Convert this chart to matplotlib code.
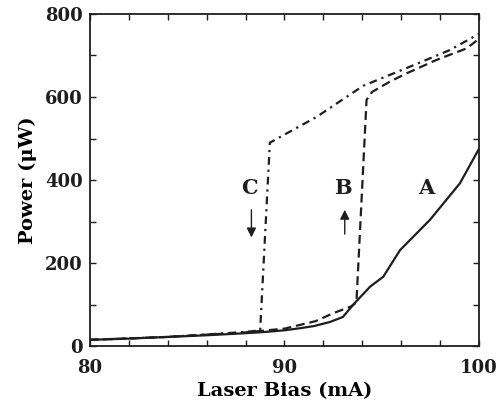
import matplotlib
matplotlib.use("Agg")
import matplotlib.pyplot as plt
from matplotlib.ticker import MultipleLocator

# courbe A (trait plein)
a_x = [80, 82, 84, 86, 88, 89, 90, 90.8, 91.5, 92.34, 93.0, 93.6, 94.4, 95.08, 95.94, 97.48, 99.02, 100]
a_y = [15, 18, 22, 26, 31, 34, 38, 43, 48, 58, 70, 103, 143, 167, 231, 304, 392, 475]

# courbe B (tirets)
b_x = [80, 84, 88, 90, 91.6, 92.5, 93.4, 93.7, 94.22, 94.5, 95.42, 96.28, 97.8, 99.36, 100]
b_y = [15, 22, 33, 42, 60, 79, 95, 105, 593, 612, 637, 657, 689, 717, 740]

# courbe C (tiret-point)
c_x = [80, 84, 88, 88.75, 89.25, 91.65, 94.05, 96.45, 98.5, 100]
c_y = [15, 22, 34, 38, 490, 552, 627, 673, 713, 752]

# etiquettes et fleches
etiquettes = ["C", "B", "A"]
etiq_x = [88.2, 93.0, 97.3]
etiq_y = [381, 381, 381]
fleche_x = [88.3, 93.1]
fleche_de = [335, 263]
fleche_vers = [255, 335]

encre = "#1e1e1e"
serif = ["DejaVu Serif"]

fig = plt.figure(figsize=(5.01, 4.11), dpi=100)
ax = fig.add_axes([0.1796, 0.158, 0.7764, 0.808])

ax.plot(a_x, a_y, color=encre, lw=1.6, ls="-")
ax.plot(b_x, b_y, color=encre, lw=1.6, ls=(0, (4, 2.2)))
ax.plot(c_x, c_y, color=encre, lw=1.6, ls=(0, (3.5, 2.2, 1, 2.2)))

for t, x, y in zip(etiquettes, etiq_x, etiq_y):
    ax.text(x, y, t, fontsize=15, fontweight="bold", family=serif,
            ha="center", va="center", color=encre)

for x, y0, y1 in zip(fleche_x, fleche_de, fleche_vers):
    ax.annotate("", xy=(x, y1), xytext=(x, y0),
                arrowprops=dict(arrowstyle="-|>", color=encre, lw=1.0,
                                mutation_scale=14))

ax.set_xlim(80, 100)
ax.set_ylim(0, 800)
ax.set_xticks([80, 90, 100])
ax.xaxis.set_minor_locator(MultipleLocator(2))
ax.set_yticks([0, 200, 400, 600, 800])
ax.yaxis.set_minor_locator(MultipleLocator(100))
ax.tick_params(which="both", direction="in", top=True, right=True,
               length=4, width=1, colors=encre)
ax.tick_params(axis="x", which="major", pad=9)
ax.tick_params(axis="y", which="major", pad=5)
for lab in ax.get_xticklabels() + ax.get_yticklabels():
    lab.set_fontfamily(serif)
    lab.set_fontweight("bold")
    lab.set_fontsize(13)
for s in ax.spines.values():
    s.set_linewidth(1.3)
    s.set_color(encre)

ax.set_xlabel("Laser Bias (mA)", fontsize=14, fontweight="bold", family=serif, labelpad=4)
ax.set_ylabel("Power (\u03bcW)", fontsize=14, fontweight="bold", family=serif, labelpad=6)

fig.savefig("out.png", dpi=100)
